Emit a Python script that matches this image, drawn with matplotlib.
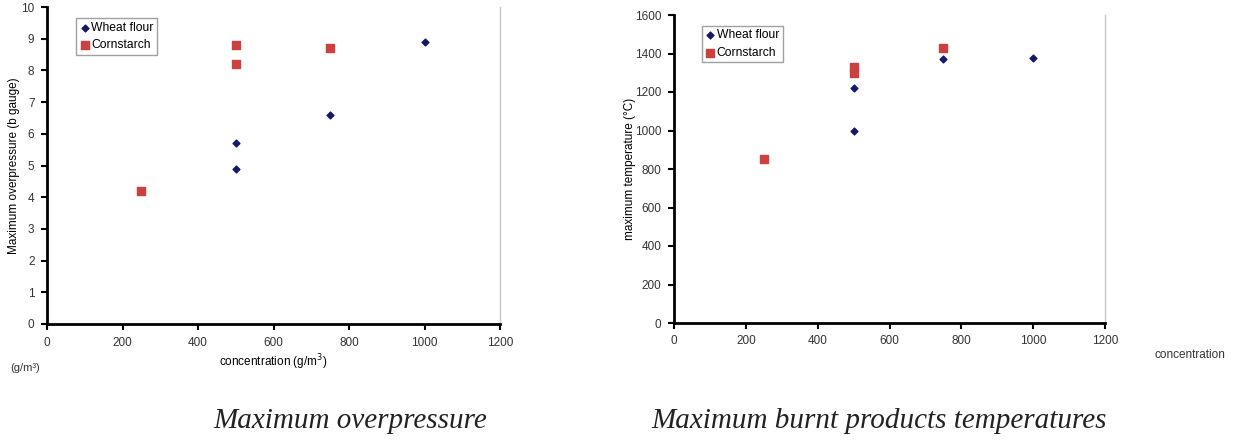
import matplotlib
matplotlib.use('Agg')
import matplotlib.pyplot as plt

# Data
wheat_conc = [500, 500, 750, 1000]
wheat_pressure = [5.7, 4.9, 6.6, 8.9]
corn_conc = [250, 500, 500, 750]
corn_pressure = [4.2, 8.8, 8.2, 8.7]

wheat_temp = [1220, 1000, 1370, 1375]
corn_temp = [850, 1330, 1300, 1430]

x_ticks = [0, 200, 400, 600, 800, 1000, 1200]
p_ticks = list(range(0, 11))
t_ticks = list(range(0, 1601, 200))

plt.rcParams['font.family'] = ['Liberation Sans', 'DejaVu Sans']

W, H = 1233, 441
fig = plt.figure(figsize=(W / 100, H / 100), dpi=100)

wheat_color = '#14186a'
corn_color = '#cc4040'


def style_axes(ax):
    ax.spines['top'].set_visible(False)
    ax.spines['right'].set_color('#c8c8c8')
    ax.spines['right'].set_linewidth(1)
    ax.spines['left'].set_linewidth(2)
    ax.spines['bottom'].set_linewidth(2)
    ax.tick_params(direction='out', length=4, width=1.5, labelsize=8.5,
                   labelcolor='#333333', pad=5)
    ax.set_xlim(0, 1200)
    ax.set_xticks(x_ticks)


def add_legend(ax):
    leg = ax.legend(loc='upper left', bbox_to_anchor=(0.065, 0.965), fontsize=8.7,
                    frameon=True, fancybox=False, handletextpad=0.1,
                    handlelength=0.8, borderpad=0.3, labelspacing=0.45,
                    borderaxespad=0)
    leg.get_frame().set_edgecolor('#888888')
    leg.get_frame().set_linewidth(1)


# Left: maximum overpressure
ax1 = fig.add_axes([47 / W, 1 - 324 / H, (500 - 47) / W, (324 - 7) / H])
ax1.scatter(wheat_conc, wheat_pressure, marker='D', s=12, color=wheat_color,
            label='Wheat flour', zorder=3)
ax1.scatter(corn_conc, corn_pressure, marker='s', s=30, color=corn_color,
            label='Cornstarch', zorder=3)
style_axes(ax1)
ax1.set_ylim(0, 10)
ax1.set_yticks(p_ticks)
ax1.set_ylabel('Maximum overpressure (b gauge)', fontsize=8.5, labelpad=1)
ax1.set_xlabel('concentration (g/m$^3$)', fontsize=8.5, labelpad=3)
add_legend(ax1)

# Right: maximum temperature
ax2 = fig.add_axes([674 / W, 1 - 323 / H, (1105 - 674) / W, (323 - 15) / H])
ax2.scatter(wheat_conc, wheat_temp, marker='D', s=12, color=wheat_color,
            label='Wheat flour', zorder=3)
ax2.scatter(corn_conc, corn_temp, marker='s', s=30, color=corn_color,
            label='Cornstarch', zorder=3)
style_axes(ax2)
ax2.set_ylim(0, 1600)
ax2.set_yticks(t_ticks)
ax2.set_ylabel('maximum temperature (°C)', fontsize=8.5, labelpad=-1)
add_legend(ax2)

fig.text(10 / W, 1 - 368 / H, '(g/m³)', fontsize=8, color='#333333', va='center')
fig.text(1190 / W, 1 - 355 / H, 'concentration', fontsize=8.5, color='#333333',
         ha='center', va='center')

fig.text(350 / W, 1 - 421 / H, 'Maximum overpressure', fontsize=21,
         family='Liberation Serif', style='italic', ha='center', va='center',
         color='#222222')
fig.text(879 / W, 1 - 421 / H, 'Maximum burnt products temperatures', fontsize=21,
         family='Liberation Serif', style='italic', ha='center', va='center',
         color='#222222')

fig.savefig('out.png', dpi=100)
